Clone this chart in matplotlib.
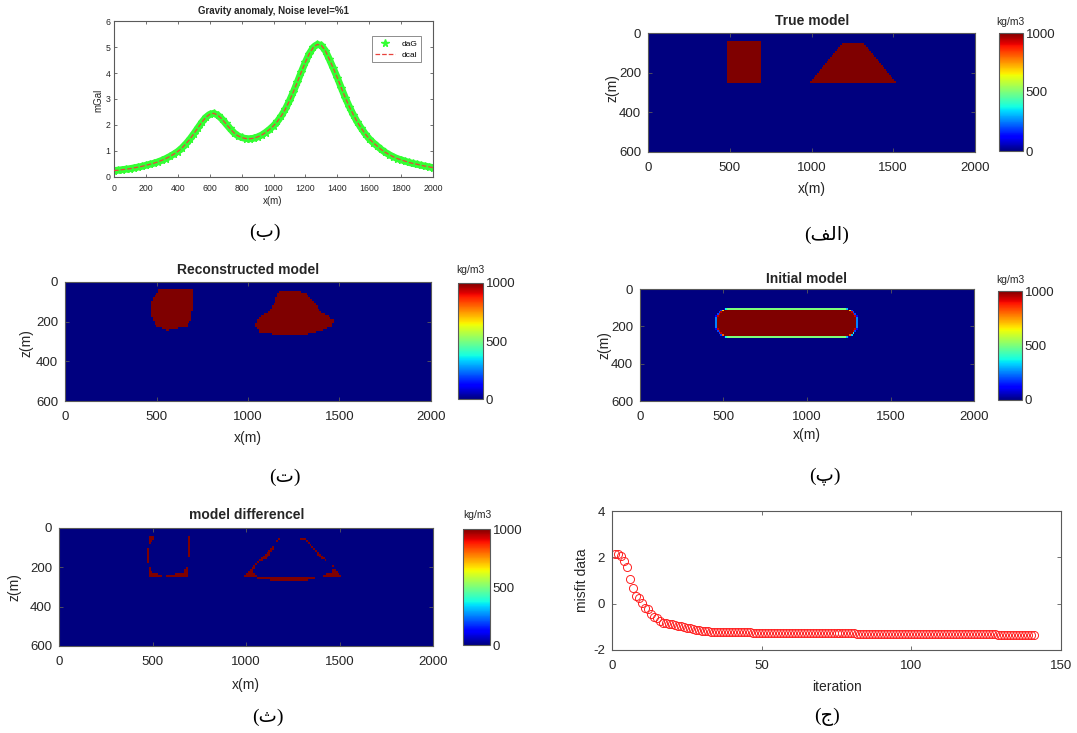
import numpy as np
import matplotlib
matplotlib.use('Agg')
import matplotlib.pyplot as plt
from matplotlib.path import Path

# ---------- data ----------
# gravity profile (mGal), stations every 25 m
x_obs = list(range(0, 2001, 25))
daG = [0.25, 0.26, 0.28, 0.30, 0.32, 0.35, 0.38, 0.41, 0.45, 0.49,
       0.53, 0.58, 0.64, 0.71, 0.79, 0.88, 0.98, 1.11, 1.27, 1.45,
       1.66, 1.88, 2.10, 2.29, 2.41, 2.45, 2.38, 2.24, 2.06, 1.88,
       1.71, 1.59, 1.52, 1.48, 1.47, 1.49, 1.54, 1.61, 1.71, 1.83,
       1.97, 2.14, 2.36, 2.62, 2.93, 3.28, 3.66, 4.05, 4.42, 4.75,
       4.99, 5.10, 5.06, 4.86, 4.53, 4.18, 3.82, 3.43, 3.05, 2.71,
       2.40, 2.12, 1.88, 1.66, 1.47, 1.32, 1.19, 1.06, 0.95, 0.86,
       0.78, 0.71, 0.66, 0.61, 0.56, 0.52, 0.49, 0.45, 0.42, 0.39,
       0.36]
dcal = [0.25, 0.26, 0.28, 0.30, 0.32, 0.35, 0.38, 0.41, 0.45, 0.49,
        0.53, 0.58, 0.64, 0.71, 0.79, 0.88, 0.98, 1.11, 1.27, 1.45,
        1.66, 1.88, 2.10, 2.29, 2.41, 2.45, 2.38, 2.24, 2.06, 1.88,
        1.71, 1.59, 1.52, 1.48, 1.47, 1.49, 1.54, 1.61, 1.71, 1.83,
        1.97, 2.14, 2.36, 2.62, 2.93, 3.28, 3.66, 4.05, 4.42, 4.75,
        4.99, 5.10, 5.06, 4.86, 4.53, 4.18, 3.82, 3.43, 3.05, 2.71,
        2.40, 2.12, 1.88, 1.66, 1.47, 1.32, 1.19, 1.06, 0.95, 0.86,
        0.78, 0.71, 0.66, 0.61, 0.56, 0.52, 0.49, 0.45, 0.42, 0.39,
        0.36]

# model bodies (x, z) in metres, density contrast kg/m3
density = 1000
true_rect = [(485, 40), (690, 40), (690, 245), (485, 245)]
true_trap = [(1185, 48), (1317, 48), (1511, 245), (995, 245)]
recon_body1 = [(519, 39), (696, 39), (705, 81), (698, 106), (692, 191),
               (665, 225), (610, 237), (556, 247), (501, 225), (474, 183),
               (468, 123), (483, 81)]
recon_body2 = [(1166, 56), (1211, 47), (1266, 51), (1321, 61), (1357, 98),
               (1393, 149), (1439, 174), (1470, 199), (1457, 225), (1393, 250),
               (1321, 267), (1175, 270), (1066, 259), (1038, 216), (1066, 174),
               (1111, 157), (1148, 106), (1157, 73)]
init_body = [(520, 105), (1228, 105), (1262, 115), (1293, 148), (1293, 214),
             (1262, 246), (1228, 255), (520, 255), (489, 246), (457, 214),
             (457, 148), (489, 115)]

# misfit per iteration
iterations = list(range(1, 142))
misfit = [2.14, 2.13, 2.07, 1.84, 1.60, 1.05, 0.69, 0.33, 0.23, 0.01,
          -0.20, -0.24, -0.46, -0.56, -0.63, -0.73, -0.82, -0.85, -0.88, -0.89,
          -0.91, -0.95, -0.98, -1.01, -1.04, -1.06, -1.09, -1.12, -1.15, -1.18,
          -1.19, -1.20, -1.21, -1.21, -1.22,
          -1.22, -1.22, -1.23, -1.23, -1.23, -1.23, -1.24, -1.24, -1.24, -1.24,
          -1.24, -1.25, -1.25, -1.25, -1.25, -1.25, -1.25, -1.25, -1.26, -1.26,
          -1.26, -1.26, -1.26, -1.26, -1.26, -1.26, -1.27, -1.27, -1.27, -1.27,
          -1.27, -1.27, -1.27, -1.27, -1.27, -1.27, -1.28, -1.28, -1.28, -1.28,
          -1.28, -1.28, -1.28, -1.28, -1.28, -1.28, -1.29, -1.29, -1.29, -1.29,
          -1.29, -1.29, -1.29, -1.29, -1.29, -1.29, -1.30, -1.30, -1.30, -1.30,
          -1.30, -1.30, -1.30, -1.30, -1.30, -1.30, -1.31, -1.31, -1.31, -1.31,
          -1.31, -1.31, -1.31, -1.31, -1.31, -1.32, -1.32, -1.32, -1.32, -1.32,
          -1.32, -1.32, -1.32, -1.32, -1.33, -1.33, -1.33, -1.33, -1.33, -1.33,
          -1.33, -1.33, -1.33, -1.34, -1.34, -1.34, -1.34, -1.34, -1.34, -1.34,
          -1.34, -1.34, -1.35, -1.35, -1.35, -1.35]

# ---------- model grids ----------
dx = 10
xc = np.arange(dx / 2, 2000, dx)
zc = np.arange(dx / 2, 600, dx)


def rasterize(polys, sub=1):
    off = (np.arange(sub) + 0.5) / sub * dx - dx / 2
    xs = (xc[:, None] + off[None, :]).ravel()
    zs = (zc[:, None] + off[None, :]).ravel()
    X, Z = np.meshgrid(xs, zs)
    pts = np.column_stack([X.ravel(), Z.ravel()])
    inside = np.zeros(X.shape, bool)
    for p in polys:
        inside |= Path(p).contains_points(pts).reshape(X.shape)
    frac = inside.reshape(len(zc), sub, len(xc), sub).mean(axis=(1, 3))
    return frac * density


m_true = rasterize([true_rect, true_trap])
m_rec = rasterize([recon_body1, recon_body2])
m_init = rasterize([init_body], sub=4)
m_diff = np.abs(m_true - m_rec)

# ---------- figure ----------
W, H = 1077, 733
plt.rcParams['font.family'] = ['Liberation Sans', 'DejaVu Sans']
plt.rcParams['axes.unicode_minus'] = False
fig = plt.figure(figsize=(W / 100, H / 100), dpi=100)

spine_c = '#5a5a5a'
txt_c = '#262626'
cap_font = ['Liberation Serif', 'DejaVu Sans']


def px_axes(l, t, r, b):
    return fig.add_axes([l / W, 1 - b / H, (r - l) / W, (b - t) / H])


def ftext(x, y, s, **kw):
    fig.text(x / W, 1 - y / H, s, ha='center', va='center', color=kw.pop('color', txt_c), **kw)


def style(ax, fs, xpad=7, ypad=5, tlen=3):
    ax.tick_params(direction='in', top=True, right=True, length=tlen, width=0.6,
                   color=spine_c, labelcolor=txt_c, labelsize=fs)
    ax.tick_params(axis='x', pad=xpad)
    ax.tick_params(axis='y', pad=ypad)
    for s in ax.spines.values():
        s.set_color(spine_c)
        s.set_linewidth(0.8)


# (ب) gravity anomaly
ax1 = px_axes(114, 21, 433, 177)
ax1.plot(x_obs, daG, '-', color='#33ff33', lw=5, zorder=1)
ax1.plot(x_obs, daG, '*', color='#33ff33', ms=5.5, label='daG', zorder=2)
ax1.plot(x_obs, dcal, '--', color='#e8423c', lw=0.9, label='dcal', zorder=3)
ax1.set_xlim(0, 2000)
ax1.set_ylim(0, 6)
ax1.set_xticks(range(0, 2001, 200))
ax1.set_yticks(range(0, 7))
style(ax1, 6.3, xpad=5, ypad=2.5, tlen=2)
leg = ax1.legend(loc='upper right', bbox_to_anchor=(1 - 8 / 319, 1 - 11 / 156),
                 fontsize=6, numpoints=1, handlelength=2.3, borderpad=0.45,
                 fancybox=False, edgecolor=spine_c, labelspacing=0.35)
leg.get_frame().set_linewidth(0.6)
ftext(273, 11, 'Gravity anomaly, Noise level=%1', fontsize=7, fontweight='bold')
ftext(273, 201, 'x(m)', fontsize=7)
ftext(98, 100, 'mGal', fontsize=7, rotation=90)
ftext(265, 232, '(ب)', fontsize=14, family=cap_font, color='black')


def model_panel(box, cbox, img, title, title_xy, kg_xy, xl_y, zl_xy, cap, cap_xy):
    ax = px_axes(*box)
    im = ax.imshow(img, cmap='jet', vmin=0, vmax=1000, extent=[0, 2000, 600, 0],
                   aspect='auto', interpolation='nearest')
    ax.set_xticks([0, 500, 1000, 1500, 2000])
    ax.set_yticks([0, 200, 400, 600])
    style(ax, 9.5)
    cax = px_axes(*cbox)
    cb = fig.colorbar(im, cax=cax, ticks=[0, 500, 1000])
    cb.ax.tick_params(length=0, labelsize=9.5, labelcolor=txt_c, pad=2)
    cb.outline.set_edgecolor(spine_c)
    cb.outline.set_linewidth(0.8)
    ftext(*title_xy, title, fontsize=10, fontweight='bold')
    ftext(*kg_xy, 'kg/m3', fontsize=7.5)
    ftext((box[0] + box[2]) / 2, xl_y, 'x(m)', fontsize=10)
    ftext(*zl_xy, 'z(m)', fontsize=10, rotation=90)
    ftext(*cap_xy, cap, fontsize=14, family=cap_font, color='black')


# (الف) true model
model_panel((648, 33, 975, 152), (999, 33, 1023, 151), m_true, 'True model',
            (812, 21), (1010, 22), 189, (613, 88),
            '(\ufed2\ufedf\ufe8d)', (827, 235))
# (ت) reconstructed model
model_panel((65, 282, 431, 401), (458, 283, 483, 399), m_rec, 'Reconstructed model',
            (248, 270), (470, 270), 438, (27, 343), '(ت)', (285, 477))
# (پ) initial model
model_panel((640, 289, 974, 401), (998, 291, 1022, 400), m_init, 'Initial model',
            (807, 279), (1010, 280), 435, (605, 345), '(پ)', (825, 476))
# (ث) model difference
model_panel((59, 528, 433, 646), (463, 529, 490, 645), m_diff, 'model differencel',
            (247, 515), (477, 515), 685, (15, 587), '(ث)', (268, 717))

# (ج) misfit
ax6 = px_axes(612, 511, 1061, 650)
ax6.plot(iterations, misfit, 'o', mfc='none', mec='#ff2020', ms=5.8, mew=0.7)
ax6.set_xlim(0, 150)
ax6.set_ylim(-2, 4)
ax6.set_xticks([0, 50, 100, 150])
ax6.set_yticks([-2, 0, 2, 4])
style(ax6, 9.5)
ftext(837, 687, 'iteration', fontsize=10)
ftext(582, 580, 'misfit data', fontsize=10, rotation=90)
ftext(827, 717, '(ج)', fontsize=14, family=cap_font, color='black')

fig.savefig('out.png', dpi=100)
